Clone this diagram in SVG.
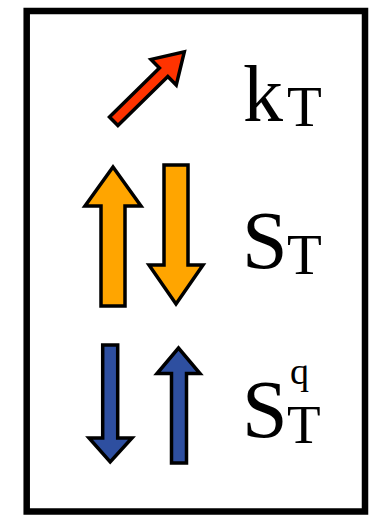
<svg xmlns="http://www.w3.org/2000/svg" width="386" height="519" viewBox="0 0 386 519">
<style>
.arr{stroke:#000;stroke-width:3.5;stroke-linejoin:miter;stroke-miterlimit:10}
.red{fill:#ff3300}
.org{fill:#ffa500}
.blu{fill:#2e4fa0}
text{font-family:'Liberation Serif','Times New Roman','DejaVu Serif',serif;fill:#000}
</style>
<rect x="26.7" y="11" width="338.3" height="500.5" fill="#fff" stroke="#000" stroke-width="6.5"/>
<g id="kT">
<polygon class="arr red" transform="translate(113.7,121.3) rotate(-44.5)" points="0,-6 70,-6 70,-18 99,0 70,18 70,6 0,6"/>
<text x="243" y="121" font-size="80">k</text>
<text x="287" y="126" font-size="57">T</text>
</g>
<g id="ST">
<polygon class="arr org" points="101,306 101,206 85,206 113,167 141,206 125,206 125,306"/>
<polygon class="arr org" points="164,165 188,165 188,265 203,265 176,304 149,265 164,265"/>
<text x="242" y="268" font-size="82">S</text>
<text x="287" y="274" font-size="57">T</text>
</g>
<g id="STq">
<polygon class="arr blu" points="102.7,345 117.7,345 117.7,438 132,438 110.2,462 89,438 102.7,438"/>
<polygon class="arr blu" points="171.5,463 171.5,373.5 157,373.5 178.5,348 200,373.5 186.5,373.5 186.5,463"/>
<text x="242" y="437" font-size="82">S</text>
<text x="290" y="384" font-size="38">q</text>
<text x="287" y="443" font-size="55">T</text>
</g>
</svg>
